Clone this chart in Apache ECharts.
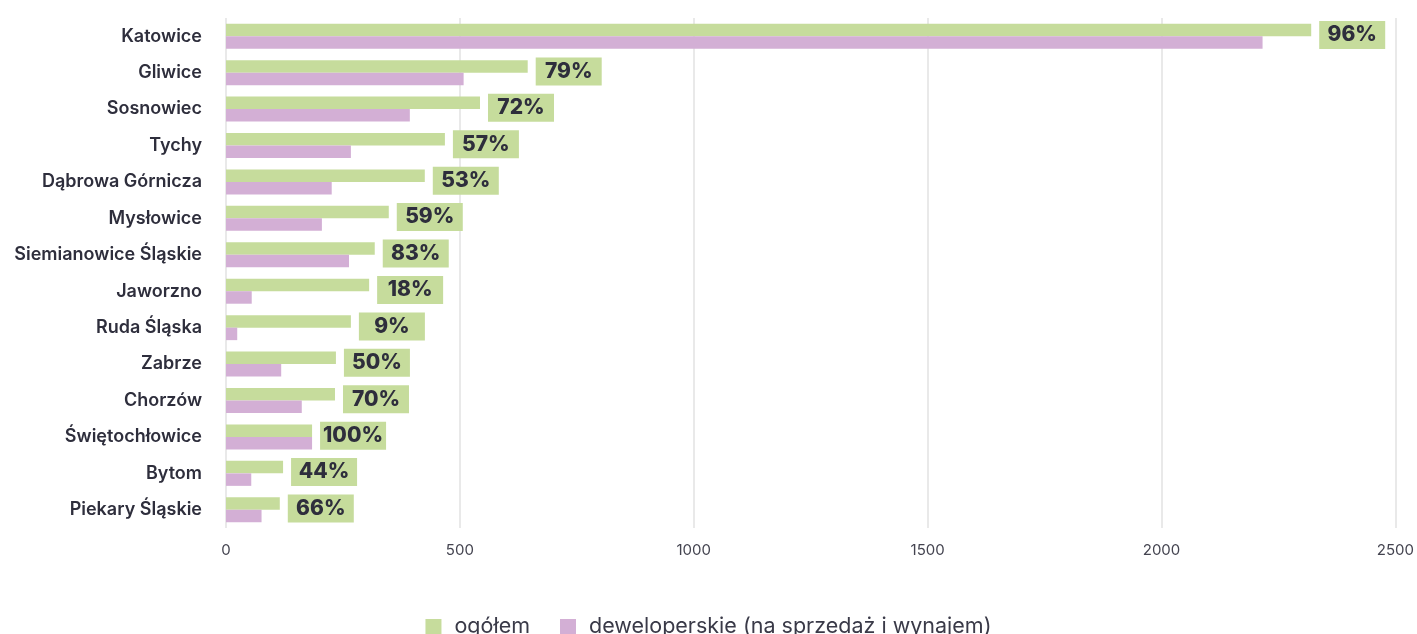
<!DOCTYPE html>
<html>
<head>
<meta charset="utf-8">
<script src="https://cdn.jsdelivr.net/npm/echarts@6/dist/echarts.min.js"></script>
<style>
  html, body { margin: 0; padding: 0; background: #fff; }
  #chart { width: 1417px; height: 634px; }
</style>
</head>
<body>
<div id="chart"></div>
<script>
// Cities (top to bottom)
const cities = [
  'Katowice', 'Gliwice', 'Sosnowiec', 'Tychy', 'Dąbrowa Górnicza', 'Mysłowice',
  'Siemianowice Śląskie', 'Jaworzno', 'Ruda Śląska', 'Zabrze', 'Chorzów',
  'Świętochłowice', 'Bytom', 'Piekary Śląskie'
];
// Total dwellings
const totalValues = [2320, 645, 543, 468, 425, 348, 318, 306, 267, 235, 233, 184, 122, 115];
// Developer dwellings (for sale and rent)
const devValues = [2216, 508, 393, 267, 226, 205, 263, 55, 24, 118, 162, 184, 54, 76];
// Share of developer dwellings, as printed next to the bars
const shareLabels = ['96%', '79%', '72%', '57%', '53%', '59%', '83%', '18%', '9%', '50%', '70%', '100%', '44%', '66%'];
// Axis ticks
const xTicks = [0, 500, 1000, 1500, 2000, 2500];

const seriesNames = ['ogółem', 'deweloperskie (na sprzedaż i wynajem)'];
const GREEN = '#c6dc9c';
const PURPLE = '#d3afd5';
const TEXT = '#2e2e3c';
const FONT = 'Inter, "Noto Sans", sans-serif';

const chart = echarts.init(document.getElementById('chart'), null, { renderer: 'canvas' });

chart.setOption({
  backgroundColor: '#ffffff',
  animation: false,
  textStyle: { fontFamily: FONT },
  grid: { left: 226, right: 21, top: 18, height: 510, containLabel: false },
  legend: {
    bottom: -9,
    left: 'center',
    itemWidth: 16,
    itemHeight: 16,
    itemGap: 30,
    icon: 'rect',
    textStyle: { fontSize: 21.5, color: '#3a3a48', fontFamily: FONT, padding: [0, 0, 0, 8] },
    data: seriesNames
  },
  xAxis: {
    type: 'value',
    min: xTicks[0],
    max: xTicks[xTicks.length - 1],
    interval: 500,
    axisLine: { show: false },
    axisTick: { show: false },
    axisLabel: {
      fontSize: 15, color: '#444450', margin: 15, fontFamily: FONT,
      formatter: (v) => String(v)
    },
    splitLine: { show: true, lineStyle: { color: '#e2e2e2', width: 1.5 } }
  },
  yAxis: {
    type: 'category',
    inverse: true,
    data: cities,
    axisLine: { show: false },
    axisTick: { show: false },
    axisLabel: { fontSize: 18, fontWeight: 600, color: TEXT, margin: 24, fontFamily: FONT }
  },
  series: [
    {
      name: seriesNames[0],
      type: 'bar',
      data: totalValues,
      barWidth: 12.5,
      barGap: '0%',
      itemStyle: { color: GREEN },
      label: {
        show: true,
        position: 'right',
        distance: 8,
        offset: [0, 5],
        align: 'left',
        verticalAlign: 'middle',
        formatter: (p) => '{box|' + shareLabels[p.dataIndex] + '}',
        rich: {
          box: {
            backgroundColor: GREEN,
            width: 66,
            height: 28,
            lineHeight: 28,
            align: 'center',
            fontSize: 21,
            fontWeight: 800,
            color: TEXT,
            fontFamily: FONT
          }
        }
      }
    },
    {
      name: seriesNames[1],
      type: 'bar',
      data: devValues,
      barWidth: 12.5,
      barGap: '0%',
      itemStyle: { color: PURPLE }
    }
  ]
});
</script>
</body>
</html>
